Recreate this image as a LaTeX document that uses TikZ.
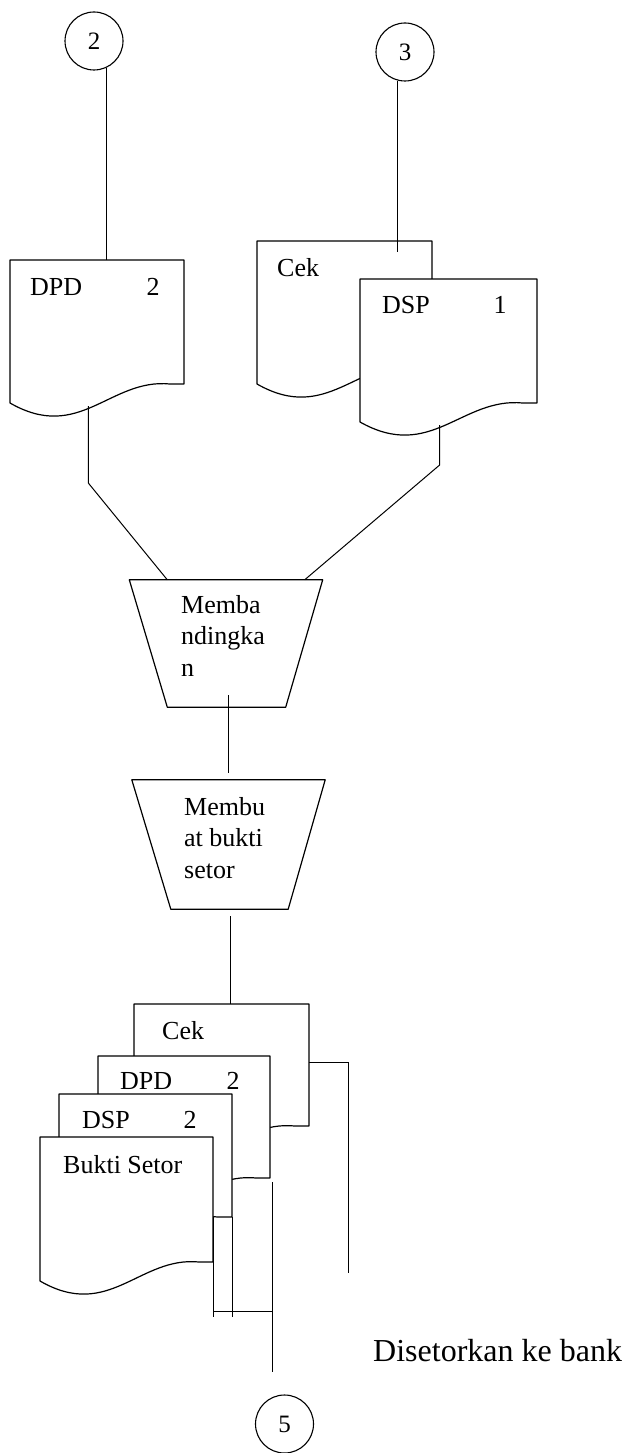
\documentclass[tikz,border=0pt]{standalone}
\usepackage{fontspec}
\setmainfont{Liberation Serif}
\usetikzlibrary{calc}

\tikzset{
  docline/.style={line width=1.2pt, line join=round},
  conn/.style={line width=1pt},
  circ/.style={circle, draw, line width=1.1pt, minimum size=58pt, inner sep=0pt,
               font=\fontsize{25}{30}\selectfont},
  lbl/.style={inner sep=0pt, font=\fontsize{26}{31.5}\selectfont},
  procbox/.style={rectangle, draw=none, inner sep=0pt},
  % document symbol: width #1, right-hand height #2, wavy lower edge
  pics/doc/.style n args={2}{code={
    \draw[docline, fill=white] (0,0) -- (#1,0) -- (#1,#2) -- ({0.92*#1},#2)
      .. controls ({0.575*#1},{#2-6}) and ({0.40*#1},{#2+59}) .. (0,{#2+19}) -- cycle;
    \coordinate (-nw) at (0,0);
    \coordinate (-ne) at (#1,0);
    \coordinate (-se) at (#1,#2);
    \coordinate (-out) at ({0.45*#1},{#2+22});
  }}
}

\begin{document}
\begin{tikzpicture}[x=1pt,y=-1pt]
\fill[white] (0,0) rectangle (630,1453);
\useasboundingbox (0,0) rectangle (630,1453);

% off-page connectors
\node[circ] (c2) at (94,41) {2};
\node[circ] (c3) at (405,52) {3};
\node[circ] (c5) at (284.5,1424) {5};

% incoming documents
\pic (dpdA) at (10,260) {doc={174}{124}};
\node[lbl, anchor=base west] (dpdAt) at (30,295) {DPD};
\node[lbl, anchor=base] (dpdAn) at (153,295) {2};

\pic (cekA) at (257,241) {doc={175}{124}};
\node[lbl, anchor=base west] (cekAt) at (277,276) {Cek};

\pic (dspA) at (360,279) {doc={177}{124}};
\node[lbl, anchor=base west] (dspAt) at (382,313) {DSP};
\node[lbl, anchor=base] (dspAn) at (500,313) {1};

\draw[conn] (c2.-65) -- (c2.-65 |- dpdA-nw);
\coordinate (c3in) at ($(c3.-104 |- cekA-nw)+(0,11)$);
\draw[conn] (c3.-104) -- (c3in);

% processes
\node[procbox, minimum width=193pt, minimum height=127pt] (t1) at (226,643.5) {};
\draw[docline] (t1.north west) -- (t1.north east) -- ($(t1.south east)+(-37,0)$)
  -- ($(t1.south west)+(38,0)$) -- cycle;
\node[lbl, anchor=base west, align=left] (t1t) at (181,676) {Memba\\ndingka\\n};

\node[procbox, minimum width=193pt, minimum height=129pt] (t2) at (228.5,844.5) {};
\draw[docline] (t2.north west) -- (t2.north east) -- ($(t2.south east)+(-37,0)$)
  -- ($(t2.south west)+(39,0)$) -- cycle;
\node[lbl, anchor=base west, align=left] (t2t) at (184,878) {Membu\\at bukti\\setor};

\draw[conn] (dpdA-out) -- ++(0,77) -- ($(t1.north west)+(38,0)$);
\draw[conn] (dspA-out) -- ++(0,40) -- ($(t1.north east)+(-18,0)$);
\draw[conn] ($(t1.south)+(2,-12)$) -- ($(t2.north)+(-0.5,-7)$);

% outgoing documents
\coordinate (t2out) at ($(t2.south)+(1.5,7)$);
\pic (cekB) at (134,1004) {doc={175}{122}};
\node[lbl, anchor=base west] (cekBt) at (162,1039) {Cek};
\draw[conn] (t2out) -- (t2out |- cekB-nw);

\pic (dpdB) at (98,1056) {doc={172}{122}};
\node[lbl, anchor=base west] (dpdBt) at (120,1089) {DPD};
\node[lbl, anchor=base] (dpdBn) at (233,1089) {2};

\pic (dspB) at (59,1094) {doc={173}{123}};
\node[lbl, anchor=base west] (dspBt) at (82,1128) {DSP};
\node[lbl, anchor=base] (dspBn) at (190,1128) {2};

\pic (bukti) at (40,1137) {doc={173}{125}};
\node[lbl, anchor=base west] (buktit) at (63,1173) {Bukti Setor};

% distribution lines
\coordinate (k) at ($(cekB-ne)+(0,58)$);
\draw[conn] (k) -- ++(39,0) -- ++(0,211);
\draw[conn] (dspB-se) -- ++(0,100);
\draw[conn] (dspB-se -| bukti-ne) -- ++(0,100);
\coordinate (m) at ($(dspB-se -| bukti-ne)+(0,94)$);
\coordinate (d5) at ($(dpdB-se)+(2,4)$);
\draw[conn] (m) -- (m -| d5);
\draw[conn, shorten >=22pt] (d5) -- (d5 |- c5.north);

\node[anchor=base west, inner sep=0pt, font=\fontsize{32}{38}\selectfont] (note) at (373,1361) {Disetorkan ke bank};
\end{tikzpicture}
\end{document}
